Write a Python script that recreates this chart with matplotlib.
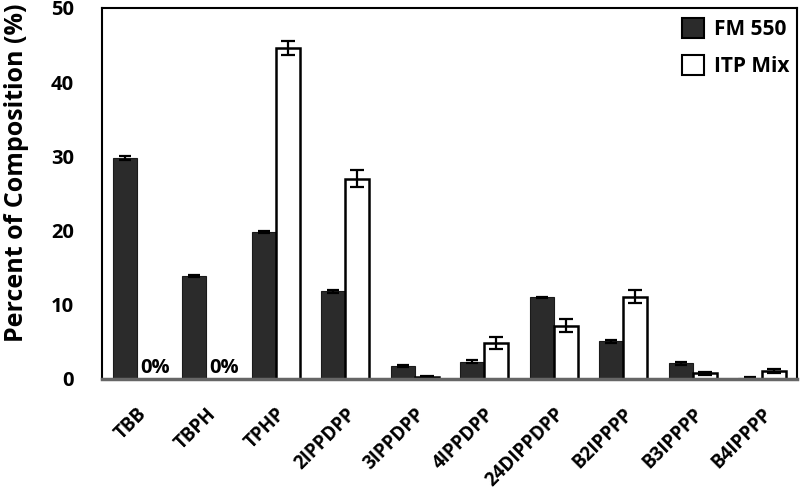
import matplotlib
matplotlib.use("Agg")
import matplotlib.pyplot as plt
import matplotlib.transforms as mtransforms
import numpy as np

categories = ["TBB", "TBPH", "TPHP", "2IPPDPP", "3IPPDPP", "4IPPDPP",
              "24DIPPDPP", "B2IPPPP", "B3IPPPP", "B4IPPPP"]
fm550 = [29.8, 13.9, 19.8, 11.8, 1.75, 2.3, 11.0, 5.1, 2.1, 0.2]
fm550_err = [0.3, 0.1, 0.1, 0.2, 0.1, 0.2, 0.1, 0.2, 0.15, 0.05]
itp = [0.0, 0.0, 44.6, 27.0, 0.3, 4.9, 7.2, 11.1, 0.8, 1.1]
itp_err = [0.0, 0.0, 0.9, 1.1, 0.05, 0.8, 0.9, 0.9, 0.2, 0.3]
zero_labels = {0: "0%", 1: "0%"}
yticks = [0, 10, 20, 30, 40, 50]

plt.rcParams['font.family'] = ['Open Sans', 'DejaVu Sans']
fig = plt.figure(figsize=(8, 4.92), dpi=100)
ax = fig.add_axes([0.1275, 0.2297, 0.8685, 0.7543])

x = np.arange(len(categories))
w = 0.345
ekw = dict(elinewidth=1.6, capthick=1.6, ecolor='black')
ax.bar(x - w/2, fm550, w, color='#2b2b2b', edgecolor='#1a1a1a', linewidth=0.8,
       yerr=fm550_err, capsize=4, error_kw=ekw, label='FM 550', zorder=2)
itp_plot = [v if i not in zero_labels else np.nan for i, v in enumerate(itp)]
itp_e = [e if i not in zero_labels else 0 for i, e in enumerate(itp_err)]
ax.bar(x + w/2, itp_plot, w, color='white', edgecolor='black', linewidth=1.8,
       yerr=itp_e, capsize=5, error_kw=ekw, label='ITP Mix', zorder=2)

for i, t in zero_labels.items():
    ax.text(x[i] + 0.26, 0.75, t, ha='center', va='baseline', fontsize=14.5,
            fontweight='bold', color='black')

ax.set_xlim(-0.5, len(categories) - 0.5)
ax.set_ylim(0, 50)
ax.set_yticks(yticks)
ax.set_yticklabels([str(v) for v in yticks], fontsize=14.5, fontweight='bold')
ax.set_xticks(x)
ax.set_xticklabels(categories, rotation=45, ha='right', va='top',
                   rotation_mode='anchor', fontsize=13.5, fontweight='bold')
offset = mtransforms.ScaledTranslation(4/100, 0, fig.dpi_scale_trans)
for lab in ax.get_xticklabels():
    lab.set_transform(lab.get_transform() + offset)
ax.tick_params(axis='y', length=0, pad=20)
ax.tick_params(axis='x', length=0, pad=18)
ax.set_ylabel("Percent of Composition (%)", fontsize=18, fontweight='bold')
ax.yaxis.set_label_coords(-0.105, 0.555)

for s in ['top', 'right', 'left']:
    ax.spines[s].set_linewidth(1.5)
    ax.spines[s].set_color('black')
ax.spines['bottom'].set_linewidth(2.5)
ax.spines['bottom'].set_color('#666666')

leg = ax.legend(loc='upper right', frameon=False,
                bbox_to_anchor=(1 + 5/695, 1 + 2/371),
                prop={'weight': 'bold', 'size': 15}, handlelength=1.1,
                handleheight=1.1, borderaxespad=0.3, labelspacing=0.7,
                handletextpad=0.45, borderpad=0.3)
for h in leg.legend_handles:
    h.set_linewidth(1.5)
    h.set_edgecolor('black')

fig.savefig("out.png", dpi=100)
